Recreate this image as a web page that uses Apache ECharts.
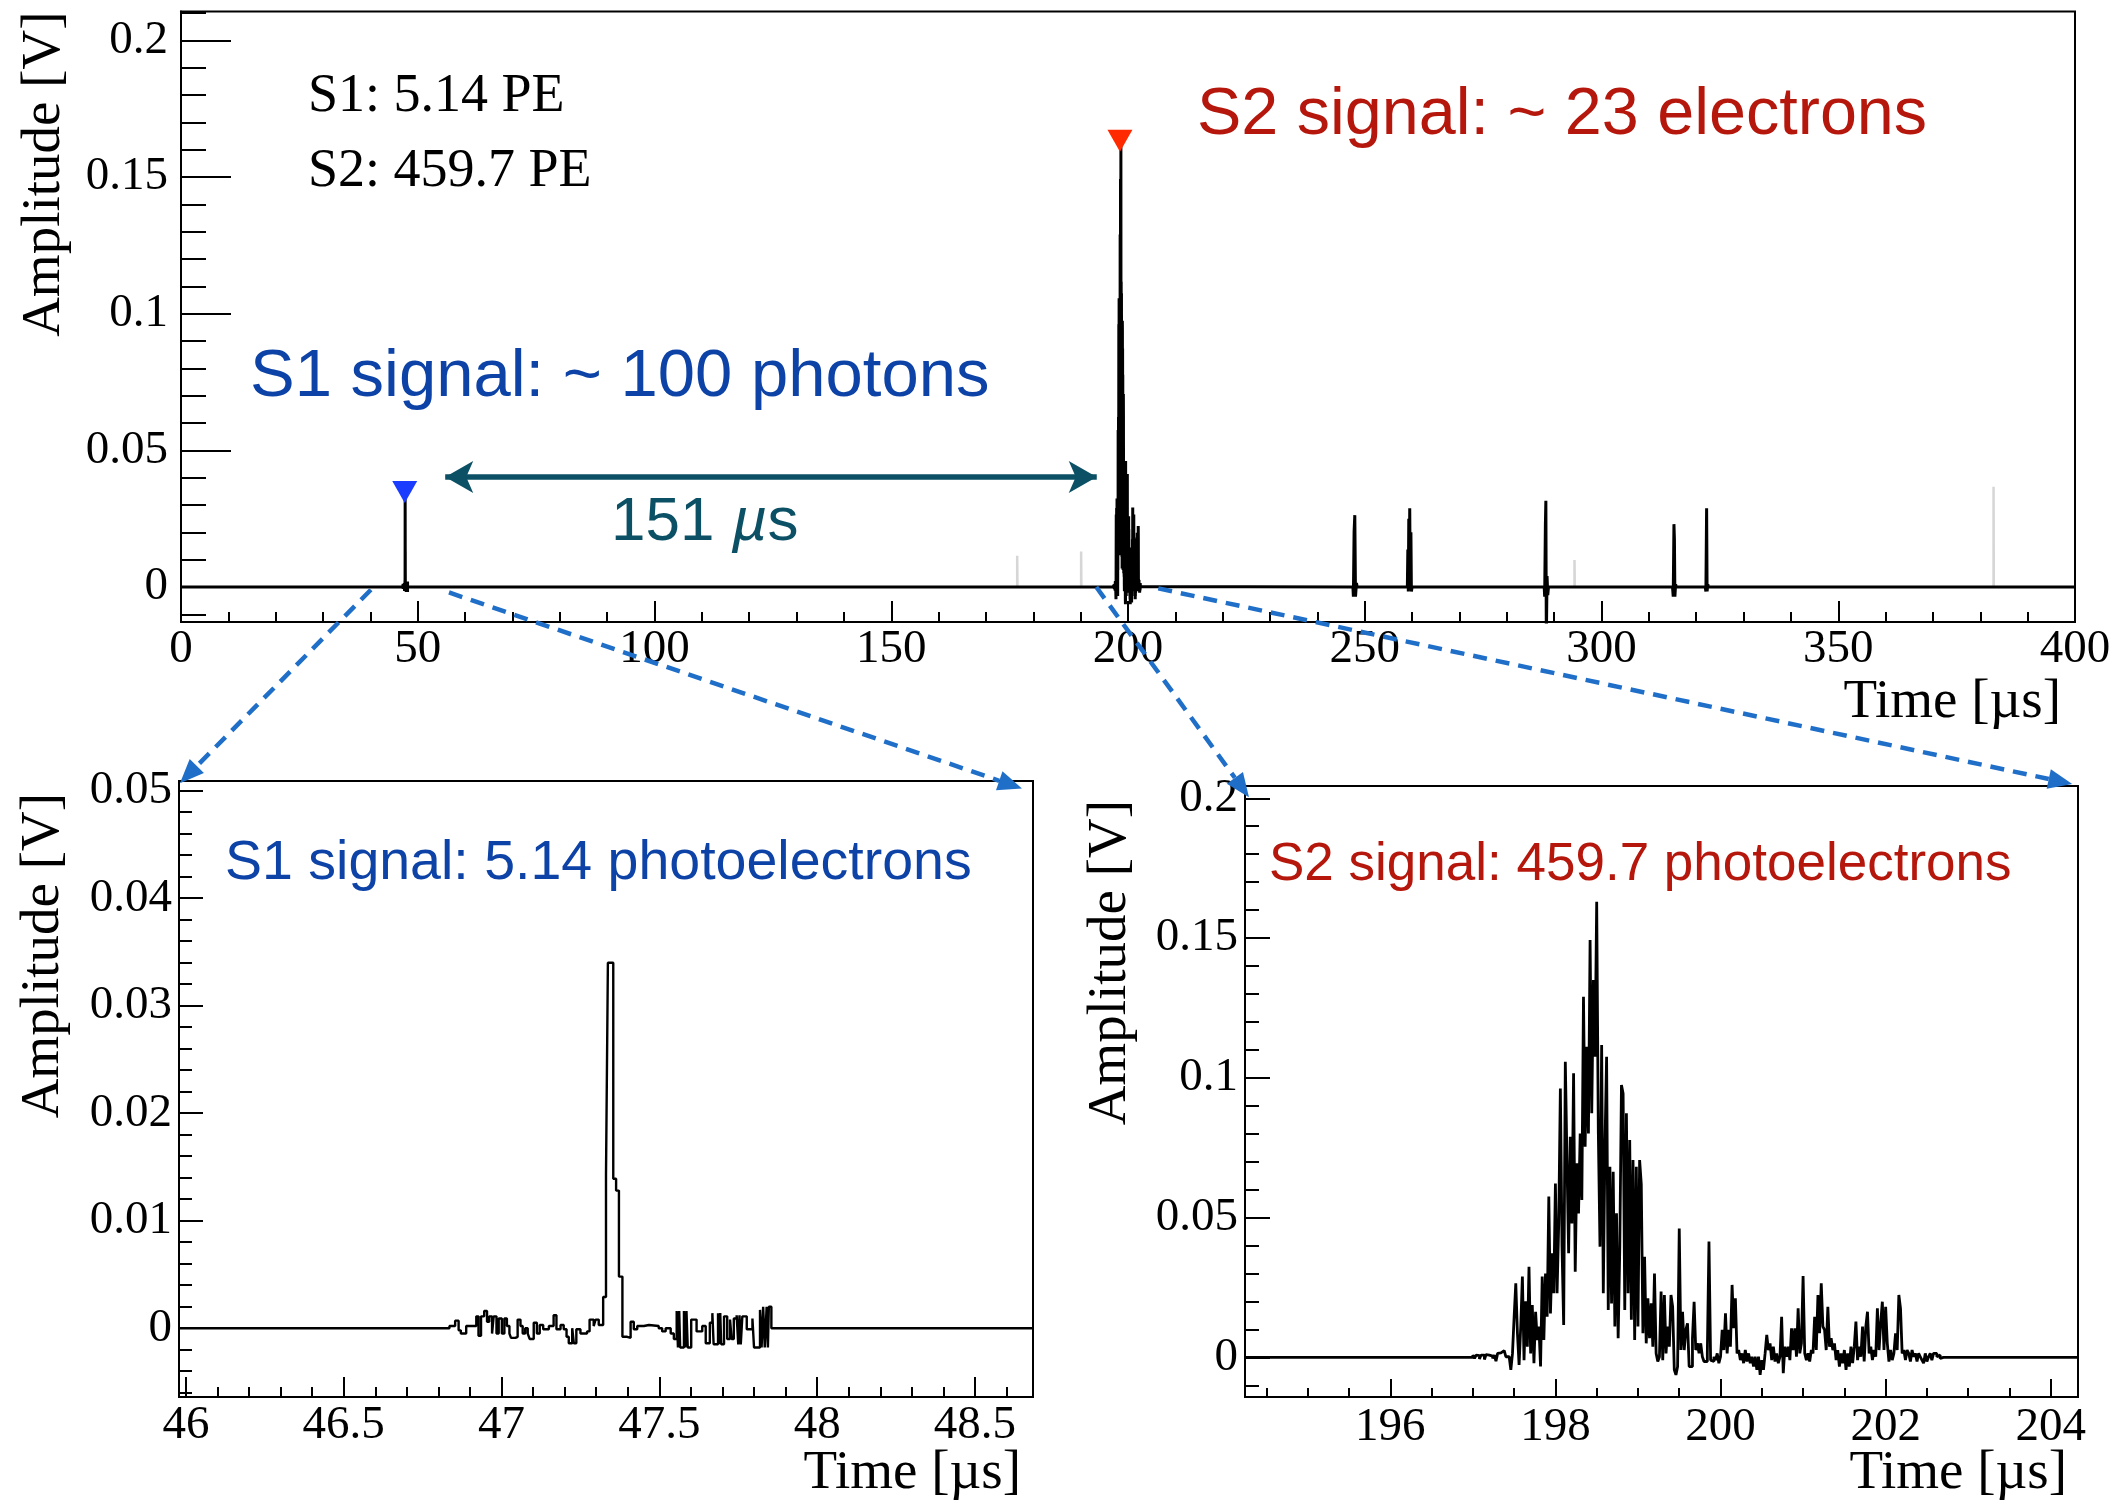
<!DOCTYPE html>
<html>
<head>
<meta charset="utf-8">
<script src="https://cdn.jsdelivr.net/npm/echarts@6.0.0/dist/echarts.min.js"></script>
<style>
  html, body { margin: 0; padding: 0; background: #fff; }
  #chart { width: 2116px; height: 1502px; }
</style>
</head>
<body>
<div id="chart"></div>
<script>
// axis ranges (time in us, amplitude in V)
const topX = [0, 400];
const topY = [-0.0128, 0.2106];
const s1X = [45.978, 48.684];
const s1Y = [-0.0064, 0.0509];
const s2X = [194.24, 204.33];
const s2Y = [-0.0142, 0.2044];

// tick labels
const topXMajor = [0, 50, 100, 150, 200, 250, 300, 350, 400];
const topYMajor = [0, 0.05, 0.1, 0.15, 0.2];
const s1XMajor = [46, 46.5, 47, 47.5, 48, 48.5];
const s1YMajor = [0, 0.01, 0.02, 0.03, 0.04, 0.05];
const s2XMajor = [196, 198, 200, 202, 204];
const s2YMajor = [0, 0.05, 0.1, 0.15, 0.2];

// S1 pulse, [time, amplitude] at each step edge
const s1Pulse = [
  [46.835, 0.0002], [46.853, 0.0007], [46.864, -0.0002], [46.871, -0.0005], [46.888, 0.0002],
  [46.920, 0.0011], [46.927, -0.0007], [46.935, 0.0011], [46.945, 0.0016], [46.954, 0.0006],
  [46.961, 0.0011], [46.970, -0.0005], [46.975, 0.0011], [46.984, -0.0005], [46.991, 0.0009],
  [47.001, -0.0005], [47.009, 0.0009], [47.017, 0.0002], [47.025, -0.0005], [47.030, -0.0009],
  [47.044, -0.0008], [47.051, 0.0008], [47.060, 0.0002], [47.067, -0.0005], [47.075, 0.0000],
  [47.083, -0.0005], [47.089, -0.0010], [47.102, 0.0005], [47.112, -0.0005], [47.121, 0.0003],
  [47.132, -0.0001], [47.150, 0.0002], [47.165, 0.0012], [47.174, -0.0001], [47.187, 0.0003],
  [47.197, -0.0001], [47.206, -0.0008], [47.213, -0.0014], [47.224, 0.0000], [47.229, -0.0014],
  [47.237, -0.0001], [47.250, -0.0005], [47.271, -0.0003], [47.279, 0.0008], [47.292, 0.0002],
  [47.298, 0.0008], [47.308, 0.0003], [47.322, 0.0029], [47.331, 0.0143], [47.337, 0.0340],
  [47.354, 0.0139], [47.363, 0.0128], [47.372, 0.0048], [47.383, -0.0008], [47.398, -0.0009],
  [47.409, 0.0006], [47.419, -0.0001], [47.430, 0.0002], [47.451, 0.0003], [47.467, 0.0002],
  [47.498, 0.0000], [47.509, -0.0003], [47.520, 0.0000], [47.536, -0.0005], [47.546, -0.0010],
  [47.555, 0.0016], [47.559, -0.0018], [47.563, 0.0016], [47.566, -0.0018], [47.578, 0.0016],
  [47.582, -0.0018], [47.586, 0.0016], [47.590, -0.0018], [47.601, 0.0008], [47.618, -0.0003],
  [47.636, 0.0002], [47.647, -0.0014], [47.660, 0.0005], [47.668, 0.0014], [47.672, -0.0015],
  [47.686, 0.0014], [47.690, -0.0015], [47.693, 0.0014], [47.696, -0.0015], [47.705, 0.0011],
  [47.715, -0.0010], [47.724, 0.0008], [47.729, -0.0010], [47.736, 0.0009], [47.745, 0.0012],
  [47.750, -0.0015], [47.754, 0.0012], [47.758, -0.0015], [47.763, 0.0011], [47.777, -0.0001],
  [47.795, 0.0009], [47.800, -0.0018], [47.819, 0.0017], [47.824, -0.0018], [47.829, 0.0020],
  [47.834, -0.0018], [47.840, 0.0020], [47.844, -0.0018], [47.847, 0.0020], [47.855, 0.0000]
];

// S2 pulse, digitised every 20 ns from 197.00 us
const s2Start = 197.0;
const s2Step = 0.02;
const s2Amp = [
  0.0008, -0.0004, 0.0008, 0.0006, -0.0006, 0.0008, 0.0008, -0.0008, 0.001, 0.0008,
  0.0008, 0.0004, -0.0004, 0.0008, -0.0014, 0.0014, 0.0016, 0.0022, 0.0024, 0.002,
  0.0002, 0.0002, -0.0002, -0.0045, 0.0014, 0.0145, 0.0265, 0.0086, -0.0027, 0.011,
  0.0289, -0.001, 0.02, 0.0038, 0.0324, 0.0014, 0.0187, -0.0021, 0.0163, 0.0062,
  0.011, -0.0033, 0.0289, 0.0062, 0.03, 0.0145, 0.0575, 0.0157, 0.0372, 0.0229,
  0.0622, 0.0229, 0.0479, 0.0962, 0.0396, 0.0116, 0.1057, 0.0706, 0.0372, 0.0789,
  0.0479, 0.1016, 0.0306, 0.0694, 0.0515, 0.0801, 0.0563, 0.129, 0.0753, 0.1111,
  0.0801, 0.1493, 0.0873, 0.135, 0.1075, 0.163, 0.0801, 0.0396, 0.1117, 0.0229,
  0.0753, 0.1075, 0.0169, 0.0682, 0.0193, 0.0664, 0.011, 0.0515, 0.0068, 0.0396,
  0.0974, 0.0944, 0.0169, 0.0873, 0.0229, 0.0777, 0.0134, 0.0706, 0.0062, 0.0682,
  0.011, 0.0706, 0.062, 0.0086, 0.036, 0.005, 0.0211, 0.0068, 0.0193, 0.0038,
  0.03, 0.0014, -0.0015, 0.0002, 0.0235, -0.001, 0.0223, 0.0014, 0.011, 0.0038,
  0.0223, 0.0181, -0.0045, -0.0063, -0.0033, 0.0461, 0.0026, 0.0163, 0.0026, 0.0098,
  0.0122, -0.0033, -0.0033, 0.0068, 0.0199, 0.0026, 0.005, 0.0014, 0.005, 0.0002,
  -0.0015, -0.0015, 0.0014, 0.0414, -0.001, -0.0015, 0.0002, -0.001, 0.0014, -0.0021,
  0.0002, 0.0098, 0.0026, 0.0157, 0.0014, 0.0098, 0.0038, 0.0259, 0.0104, 0.0211,
  0.0014, 0.0026, -0.001, 0.0014, -0.0021, 0.0026, -0.0015, 0.0014, -0.0021, 0.0002,
  -0.0033, 0.0002, -0.0045, 0.0002, -0.0063, -0.001, -0.0045, 0.0014, 0.008, 0.0026,
  0.005, -0.001, 0.0038, -0.0015, 0.0014, -0.0021, 0.0002, 0.0145, -0.0057, 0.0038,
  0.0002, 0.0038, -0.001, 0.0104, 0.0026, 0.0104, 0.0002, 0.0175, 0.0014, 0.005,
  0.0291, 0.0014, -0.001, 0.0014, -0.0015, 0.0026, 0.0014, 0.0145, 0.0026, 0.0223,
  0.0086, 0.0265, 0.011, 0.0098, 0.0026, 0.0181, 0.0038, 0.0068, 0.0026, 0.005,
  -0.001, 0.0026, -0.0033, 0.0014, -0.0021, 0.0026, -0.0045, 0.0014, -0.0033, 0.0038,
  -0.0021, 0.0038, 0.0128, -0.001, 0.0038, 0.0002, 0.011, -0.0015, 0.011, 0.0163,
  0.0014, 0.0038, -0.001, 0.0026, 0.0002, 0.0175, 0.0026, 0.0122, 0.0199, 0.0026,
  0.0181, 0.005, -0.0015, 0.0026, -0.001, 0.0014, 0.0086, 0.0026, 0.0223, 0.0175,
  0.0014, 0.0026, -0.001, 0.0026, 0.0014, -0.0015, 0.0026, 0.0002, 0.0014, -0.0015,
  0.0014, 0.0002, -0.001, -0.0021, 0.0014, -0.0015, 0.0002, 0.0014, -0.001, 0.0014,
  0.0014, 0.0002, 0.0008, -0.0004, 0, 0
];

// later single-electron pulses in the full trace
const afterPulses = [
  [247.5, 0], [247.6, -0.0035], [247.75, 0.0202], [247.9, 0.0263], [248.05, -0.0035], [248.25, 0.0015], [248.4, 0],
  [259.0, 0], [259.1, 0.0137], [259.2, -0.0016], [259.3, 0.025], [259.4, -0.001], [259.5, 0.0288], [259.6, 0.002], [259.75, 0.02], [259.85, -0.0016], [260.0, 0],
  [287.9, 0], [288.0, -0.0035], [288.15, 0.0227], [288.25, 0.0316], [288.35, -0.02], [288.5, 0.004], [288.65, -0.003], [288.8, 0],
  [315.0, 0], [315.15, -0.0035], [315.3, 0.023], [315.4, 0.0176], [315.5, -0.0035], [315.65, 0.001], [315.8, 0],
  [321.9, 0], [322.05, -0.0016], [322.2, 0.0288], [322.3, -0.0016], [322.45, 0.001], [322.6, 0]
];

// faint pulses from an overlaid trace
const grayTimes = [176.6, 190.1, 294.3, 382.8];
const grayHeights = [0.0114, 0.013, 0.0099, 0.0367];

const blue = '#0d42a6';
const red = '#b5170c';
const teal = '#0b5064';
const dashBlue = '#1f6fc9';
const serif = '"Liberation Serif", "Times New Roman", serif';
const sans = '"Liberation Sans", Arial, sans-serif';

const steps = (a, b, d) => {
  const out = [];
  const n = Math.round((b - a) / d);
  for (let k = 0; k <= n; k++) out.push(+(a + k * d).toFixed(6));
  return out;
};

const s2Pulse = s2Amp.map((v, i) => [+(s2Start + i * s2Step).toFixed(3), v]);

const topWave = [[0, 0], [46.8, 0]]
  .concat(s1Pulse, [[47.87, 0], [196.9, 0]], s2Pulse, [[202.8, 0]], afterPulses, [[400, 0]]);
const s1Wave = [[s1X[0], 0]].concat(s1Pulse, [[s1X[1], 0]]);
const s2Wave = [[s2X[0], 0]].concat(s2Pulse, [[s2X[1], 0]]);

// a visible axis with major ticks + labels, and a bare twin carrying the minor ticks
function axisPair(dim, gridIndex, range, major, minor, majorLen, minorLen, margin) {
  const base = {
    type: 'value', gridIndex: gridIndex, min: range[0], max: range[1],
    position: dim === 'x' ? 'bottom' : 'left',
    splitLine: { show: false }
  };
  return [
    Object.assign({}, base, {
      axisLine: { show: true, onZero: false, lineStyle: { color: '#000', width: 2 } },
      axisTick: { show: true, inside: true, length: majorLen, customValues: major,
        lineStyle: { color: '#000', width: 2 } },
      axisLabel: { show: true, customValues: major, margin: margin, color: '#000',
        fontFamily: serif, fontSize: 47 }
    }),
    Object.assign({}, base, {
      axisLine: { show: false, onZero: false },
      axisTick: { show: true, inside: true, length: minorLen, customValues: minor,
        lineStyle: { color: '#000', width: 2 } },
      axisLabel: { show: false }
    })
  ];
}

const xAxes = [].concat(
  axisPair('x', 0, topX, topXMajor, steps(0, 400, 10), 21, 10, 4),
  axisPair('x', 1, s1X, s1XMajor, steps(46, 48.6, 0.1), 20, 10, 5),
  axisPair('x', 2, s2X, s2XMajor, steps(194.5, 204, 0.5), 18, 9, 7)
);
const yAxes = [].concat(
  axisPair('y', 0, topY, topYMajor, steps(-0.01, 0.21, 0.01), 50, 25, 13),
  axisPair('y', 1, s1Y, s1YMajor, steps(-0.006, 0.05, 0.002), 24, 13, 7),
  axisPair('y', 2, s2Y, s2YMajor, steps(-0.01, 0.2, 0.01), 25, 14, 7)
);

const gridBox = { show: true, borderColor: '#000', borderWidth: 2, outerBoundsMode: 'none', containLabel: false };

const option = {
  animation: false,
  backgroundColor: '#fff',
  grid: [
    Object.assign({ left: 181, top: 11.5, width: 1894, height: 610.5 }, gridBox),
    Object.assign({ left: 179, top: 781, width: 854, height: 616 }, gridBox),
    Object.assign({ left: 1245, top: 786, width: 833, height: 611 }, gridBox)
  ],
  xAxis: xAxes,
  yAxis: yAxes,
  series: [
    {
      type: 'line', xAxisIndex: 0, yAxisIndex: 0, data: topWave,
      showSymbol: false, silent: true, z: 3,
      lineStyle: { color: '#000', width: 3 },
      markPoint: {
        silent: true, symbol: 'triangle', symbolRotate: 180, symbolSize: [25, 22],
        symbolOffset: [0, -11], label: { show: false },
        data: [
          { coord: [47.25, 0.0307], itemStyle: { color: '#1a3cff' } },
          { coord: [198.3, 0.1593], itemStyle: { color: '#ff2a00' } }
        ]
      },
      markLine: {
        silent: true, symbol: ['arrow', 'arrow'], symbolSize: [24, 28],
        label: { show: false },
        lineStyle: { color: teal, width: 5.5, type: 'solid' },
        data: [[{ coord: [55.8, 0.0403] }, { coord: [193.4, 0.0403] }]]
      }
    },
    {
      type: 'line', xAxisIndex: 2, yAxisIndex: 2, data: s1Wave, step: 'end',
      showSymbol: false, silent: true, lineStyle: { color: '#000', width: 2.4 }
    },
    {
      type: 'line', xAxisIndex: 4, yAxisIndex: 4, data: s2Wave, step: 'end',
      showSymbol: false, silent: true, lineStyle: { color: '#000', width: 2.8 }
    }
  ].concat(grayTimes.map((t, i) => ({
    type: 'line', xAxisIndex: 0, yAxisIndex: 0, showSymbol: false, silent: true, z: 2,
    data: [[t, 0], [t, grayHeights[i]], [t + 0.05, 0]],
    lineStyle: { color: '#d6d6d6', width: 2.5 }
  })))
};

const chart = echarts.init(document.getElementById('chart'));
chart.setOption(option);

const px = (s, p) => chart.convertToPixel({ seriesIndex: s }, p);

const texts = [
  { x: 308, y: 97, text: 'S1: 5.14 PE', font: '54px ' + serif, fill: '#000' },
  { x: 308, y: 172, text: 'S2: 459.7 PE', font: '54px ' + serif, fill: '#000' },
  { x: 250, y: 378, text: 'S1 signal: ~ 100 photons', font: '67px ' + sans, fill: blue },
  { x: 1197, y: 116, text: 'S2 signal: ~ 23 electrons', font: '66.5px ' + sans, fill: red },
  { x: 225, y: 864, text: 'S1 signal: 5.14 photoelectrons', font: '55.5px ' + sans, fill: blue },
  { x: 1269, y: 865, text: 'S2 signal: 459.7 photoelectrons', font: '53px ' + sans, fill: red }
];

const graphics = texts.map(t => ({
  type: 'text', x: t.x, y: t.y, z: 50, silent: true,
  style: { text: t.text, font: t.font, fill: t.fill, align: 'left', verticalAlign: 'middle' }
}));

graphics.push({
  type: 'text', x: 611, y: 523, z: 50, silent: true,
  style: {
    text: '{n|151 }{m|\u00b5}{n|s}', align: 'left', verticalAlign: 'middle',
    rich: {
      n: { fontSize: 62, fontFamily: sans, fill: teal },
      m: { fontSize: 62, fontFamily: sans, fontStyle: 'italic', fill: teal }
    }
  }
});

// axis titles
[[45, 11.5], [44, 793], [1111, 800]].forEach(p => graphics.push({
  type: 'text', x: p[0], y: p[1], rotation: Math.PI / 2, z: 50, silent: true,
  style: { text: 'Amplitude [V]', font: '55px ' + serif, fill: '#000', align: 'right', verticalAlign: 'middle' }
}));
[[2061, 703], [1021, 1474], [2067, 1474]].forEach(p => graphics.push({
  type: 'text', x: p[0], y: p[1], z: 50, silent: true,
  style: { text: 'Time [\u00b5s]', font: '55px ' + serif, fill: '#000', align: 'right', verticalAlign: 'middle' }
}));

// dashed zoom connectors from the full trace to the two detail panels
const connectors = [
  [px(0, [40.1, -0.001]), px(1, [45.981, 0.0507])],
  [px(0, [56.6, -0.002]), px(1, [48.649, 0.0502])],
  [px(0, [193.3, 0.0]), px(2, [194.288, 0.2004])],
  [px(0, [206.4, -0.0005]), px(2, [204.26, 0.2051])]
];
connectors.forEach(c => {
  const s = c[0], e = c[1];
  const dx = e[0] - s[0], dy = e[1] - s[1];
  const len = Math.sqrt(dx * dx + dy * dy);
  const ux = dx / len, uy = dy / len;
  const head = 24, half = 10;
  const bx = e[0] - ux * head, by = e[1] - uy * head;
  graphics.push({
    type: 'line', z: 60, silent: true,
    shape: { x1: s[0], y1: s[1], x2: bx, y2: by },
    style: { stroke: dashBlue, lineWidth: 4.5, lineDash: [14, 9] }
  });
  graphics.push({
    type: 'polygon', z: 60, silent: true,
    shape: { points: [[e[0], e[1]], [bx - uy * half, by + ux * half], [bx + uy * half, by - ux * half]] },
    style: { fill: dashBlue }
  });
});

chart.setOption({ graphic: graphics });
</script>
</body>
</html>
